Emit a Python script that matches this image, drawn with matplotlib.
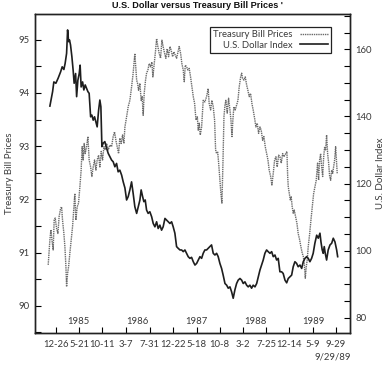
import numpy as np
import pandas as pd
import matplotlib
matplotlib.use("Agg")
import matplotlib.pyplot as plt
import matplotlib.dates as mdates
from matplotlib.ticker import MultipleLocator, FixedLocator

# weeks after 1984-12-26
BASE = pd.Timestamp("1984-12-26")

tb_weeks = [-6.8, -5.3, -4.4, -3.5, -2.4, -1.5, -0.6, 0.6, 1.8, 2.9, 4.2, 5.1, 5.9, 7.1, 8.0, 8.9, 9.5,
            10.4, 11.3, 12.4, 13.6, 14.8, 16.0, 16.8, 17.7, 18.9, 20.1, 21.3, 22.4, 23.3, 24.2, 25.1,
            26.0, 27.2, 28.4, 29.5, 30.8, 31.9, 33.1, 34.3, 35.5, 36.6, 37.9, 39.0, 40.2, 41.4, 42.6,
            43.7, 45.0, 46.4, 47.9, 49.4, 50.8, 52.0, 53.2, 54.4, 55.6, 56.7, 57.9, 59.1, 60.3, 61.2,
            62.7, 64.1, 65.6, 67.1, 68.5, 70.0, 71.6, 72.4, 73.3, 74.5, 75.6, 76.5, 77.4, 78.3, 79.5,
            80.4, 81.6, 82.7, 84.0, 85.1, 86.0, 87.2, 88.4, 89.3, 90.4, 91.6, 92.8, 94.0, 95.1, 96.4,
            97.5, 98.7, 99.9, 101.1, 102.2, 103.5, 104.6, 105.8, 107.0, 108.2, 109.3, 110.6, 111.7,
            112.9, 113.8, 114.7, 115.9, 117.0, 118.2, 119.4, 120.6, 121.8, 123.0, 124.2, 125.4, 126.2,
            127.1, 128.0, 129.2, 130.6, 132.1, 133.6, 135.0, 135.9, 137.2, 138.3, 139.5, 140.7, 141.6,
            142.5, 143.4, 144.3, 145.4, 146.3, 147.2, 148.1, 149.0, 149.9, 150.7, 151.9, 153.1, 154.3,
            155.2, 156.1, 156.9, 157.8, 159.0, 160.2, 161.4, 162.5, 163.8, 164.7, 165.5, 166.7, 167.9,
            169.1, 170.2, 171.4, 172.6, 173.8, 174.9, 176.2, 177.3, 178.5, 179.7, 180.9, 182.0, 183.3,
            184.4, 185.6, 186.8, 188.0, 189.1, 190.4, 191.5, 192.7, 193.9, 195.1, 196.2, 197.5, 198.6,
            199.8, 201.0, 202.2, 204.8, 205.5, 206.0, 206.9, 207.8, 208.6, 209.5, 210.4, 211.3, 212.5,
            213.7, 214.8, 216.1, 217.2, 218.4, 219.3, 220.2, 221.1, 222.0, 222.8, 223.7, 225.0, 226.1,
            227.3, 228.5, 229.7, 230.8, 232.0, 232.9, 233.8, 234.7, 235.6, 236.5, 237.4, 238.3, 239.1,
            240.0, 240.9, 241.8, 242.7, 243.6, 244.5, 245.4, 246.2, 247.1, 248.0, 248.9, 249.4]
tb_price = [90.77, 91.24, 91.43, 91.24, 91.05, 91.61, 91.65, 91.46, 91.36, 91.68, 91.83, 91.86, 91.61,
            91.36, 91.11, 90.74, 90.36, 90.61, 90.74, 90.99, 91.24, 91.49, 91.86, 92.11, 91.61, 91.86,
            91.93, 92.24, 92.55, 92.99, 92.74, 93.05, 92.86, 92.99, 93.18, 92.74, 92.61, 92.43, 92.61,
            92.74, 92.55, 92.74, 92.83, 92.61, 92.90, 92.74, 92.99, 92.93, 93.05, 92.93, 93.02, 92.99,
            93.18, 93.27, 93.11, 92.99, 92.86, 93.15, 93.05, 93.21, 93.05, 93.36, 93.55, 93.74, 93.86,
            94.11, 94.37, 94.74, 94.24, 94.18, 94.05, 94.18, 93.86, 93.93, 93.58, 93.99, 94.24, 94.37,
            94.43, 94.55, 94.49, 94.58, 94.30, 94.55, 94.80, 95.02, 94.87, 94.74, 94.65, 94.99, 94.87,
            94.74, 94.65, 94.83, 94.68, 94.87, 94.80, 94.68, 94.77, 94.71, 94.65, 94.77, 94.87, 94.74,
            94.55, 94.43, 94.21, 94.52, 94.49, 94.43, 94.46, 94.30, 94.11, 93.93, 93.80, 93.49, 93.55,
            93.30, 93.43, 93.21, 93.36, 93.86, 93.83, 93.93, 94.08, 93.80, 93.68, 93.86, 93.74, 93.49,
            92.93, 92.86, 92.90, 92.68, 92.36, 92.11, 91.93, 92.68, 93.55, 93.77, 93.86, 93.62, 93.90,
            93.68, 93.49, 93.18, 93.49, 93.74, 93.68, 93.77, 93.86, 94.11, 94.30, 94.37, 94.27, 94.24,
            94.30, 94.15, 94.05, 93.93, 93.99, 93.80, 93.68, 93.52, 93.36, 93.43, 93.24, 93.36, 93.30,
            93.11, 93.18, 92.99, 92.86, 92.74, 92.55, 92.43, 92.27, 92.49, 92.74, 92.80, 92.61, 92.83,
            92.80, 92.68, 92.86, 92.80, 92.90, 92.43, 92.24, 92.11, 91.99, 92.05, 91.86, 91.74, 91.80,
            91.68, 91.55, 91.36, 91.24, 91.11, 90.99, 90.93, 90.80, 90.52, 90.74, 90.86, 91.11, 91.36,
            91.61, 91.86, 92.11, 92.24, 92.36, 92.68, 92.36, 92.74, 92.86, 92.61, 92.43, 92.80, 92.99,
            92.93, 93.21, 92.86, 92.68, 92.43, 92.36, 92.55, 92.49, 92.61, 92.74, 92.99, 92.68, 92.49]

usd_weeks = [-5.3, -2.9, -1.8, 0.0, 2.0, 4.2, 5.6, 7.1, 8.2, 9.5, 10.4, 11.3, 12.1, 13.0, 14.2, 15.3,
             16.2, 17.5, 18.4, 19.5, 20.7, 21.5, 22.4, 23.7, 24.8, 26.0, 27.2, 28.4, 29.5, 30.8, 31.9,
             33.1, 34.3, 35.5, 36.6, 37.9, 39.0, 39.9, 40.8, 41.9, 43.4, 45.0, 46.4, 47.9, 49.4, 50.8,
             52.3, 53.8, 55.2, 56.7, 58.3, 59.7, 61.2, 62.7, 64.1, 65.6, 67.1, 68.5, 70.0, 71.6, 73.0,
             74.5, 75.6, 76.9, 78.0, 79.2, 80.4, 81.8, 83.3, 84.9, 86.3, 87.8, 89.3, 90.7, 92.2, 93.7,
             95.1, 96.7, 98.2, 99.6, 101.1, 102.6, 104.0, 105.5, 107.0, 108.4, 110.0, 111.5, 112.9,
             114.4, 115.9, 117.3, 118.8, 120.3, 121.8, 123.3, 124.8, 126.2, 127.7, 129.2, 130.6, 132.1,
             133.6, 135.0, 136.5, 138.0, 139.5, 141.0, 142.5, 143.9, 145.4, 146.9, 148.3, 149.9, 151.4,
             152.8, 154.3, 155.8, 157.2, 158.7, 160.2, 161.6, 163.2, 164.7, 166.1, 167.6, 169.1, 170.5,
             172.0, 173.5, 174.9, 176.5, 178.0, 179.4, 180.9, 182.4, 183.8, 185.3, 186.8, 188.2, 189.8,
             191.3, 192.7, 194.2, 195.7, 197.1, 198.6, 200.1, 201.5, 203.1, 204.6, 206.0, 207.5, 209.0,
             210.4, 211.9, 213.4, 214.8, 216.4, 217.9, 219.3, 220.8, 222.3, 223.7, 225.2, 226.7, 228.1,
             229.6, 231.2, 232.6, 234.1, 235.0, 236.1, 237.0, 237.9, 238.8, 240.0, 241.4, 243.0, 244.5,
             245.9, 247.4, 248.9, 249.8]
usd_index = [143.1, 147.4, 150.3, 149.9, 151.4, 153.3, 154.8, 154.0, 155.8, 158.8, 165.8, 162.3, 162.8,
             161.3, 157.8, 153.8, 149.9, 152.8, 145.9, 150.8, 152.8, 155.3, 148.8, 150.3, 147.9, 149.4,
             148.4, 147.4, 146.9, 139.9, 140.4, 138.9, 139.9, 138.4, 136.9, 141.9, 144.9, 142.9, 131.0,
             132.0, 132.5, 130.5, 129.0, 128.0, 127.0, 126.5, 125.0, 126.0, 123.5, 124.0, 122.5, 120.5,
             118.7, 115.1, 116.1, 118.1, 120.5, 117.1, 113.1, 111.1, 113.1, 115.1, 118.1, 116.1, 114.6,
             115.1, 112.1, 111.1, 111.6, 110.1, 108.1, 107.1, 108.6, 106.6, 107.6, 106.1, 107.1, 109.6,
             109.1, 108.6, 108.1, 108.6, 107.1, 105.2, 101.2, 100.7, 100.2, 100.2, 99.7, 100.2, 99.2,
             98.2, 97.7, 98.0, 96.7, 95.7, 96.2, 97.2, 98.2, 97.7, 99.2, 100.2, 100.2, 100.7, 101.2,
             101.7, 99.2, 98.7, 99.2, 98.2, 96.2, 94.7, 92.7, 90.2, 89.7, 88.8, 89.2, 87.7, 85.8, 88.3,
             90.2, 91.2, 91.7, 91.2, 90.2, 90.7, 89.7, 89.2, 89.7, 88.8, 89.7, 89.2, 90.2, 92.2, 94.2,
             95.7, 97.2, 99.2, 100.2, 99.7, 99.2, 99.7, 98.2, 98.7, 97.2, 97.7, 93.7, 93.7, 93.2, 91.2,
             90.4, 91.7, 92.2, 92.7, 95.2, 96.7, 96.2, 95.2, 95.7, 94.7, 96.7, 97.7, 98.2, 97.7, 96.7,
             97.7, 99.2, 102.2, 104.6, 103.7, 105.2, 102.6, 100.2, 99.2, 101.2, 99.2, 97.2, 100.2,
             101.7, 102.2, 103.7, 102.6, 100.2, 98.2]

tick_dates = ["1984-12-26", "1985-05-21", "1985-10-11", "1986-03-07", "1986-07-31", "1986-12-22",
              "1987-05-18", "1987-10-08", "1988-03-02", "1988-07-25", "1988-12-14", "1989-05-09",
              "1989-09-29"]
tick_labels = ["12-26", "5-21", "10-11", "3-7", "7-31", "12-22", "5-18", "10-8", "3-2", "7-25",
               "12-14", "5-9", "9-29"]
years = [1985, 1986, 1987, 1988, 1989]


def to_dates(weeks):
    return BASE + pd.to_timedelta(np.array(weeks) * 7, unit="D")


FONT = ["Lato", "DejaVu Sans"]
TXT = "#3a3a3a"
plt.rcParams["font.family"] = FONT

fig = plt.figure(figsize=(3.88, 3.67), dpi=100)
ax = fig.add_axes([0.090, 0.0926, 0.812, 0.869])
ax2 = ax.twinx()

l1, = ax.plot(to_dates(tb_weeks), tb_price, color="#6a6a6a", lw=1.0, ls=(0, (1, 0.6)))
l2, = ax2.plot(to_dates(usd_weeks), usd_index, color="#1e1e1e", lw=1.2)

ax.set_xlim(BASE - pd.Timedelta(days=130), BASE + pd.Timedelta(days=1825))
ax.set_ylim(89.49, 95.48)
ax2.set_ylim(75.44, 170.52)

ax.xaxis.set_major_locator(FixedLocator(mdates.date2num(pd.to_datetime(tick_dates))))
ax.set_xticklabels(tick_labels)
ax.yaxis.set_major_locator(MultipleLocator(1))
ax.yaxis.set_minor_locator(MultipleLocator(0.5))
ax2.yaxis.set_major_locator(MultipleLocator(20))
ax2.yaxis.set_minor_locator(MultipleLocator(5))

for a in (ax, ax2):
    a.tick_params(which="both", direction="in", length=4, width=0.8, labelsize=6.8,
                  labelcolor=TXT, pad=4)
    for s in a.spines.values():
        s.set_linewidth(1.0)
        s.set_color("#222222")
ax.tick_params(axis="x", pad=5)

ax.set_ylabel("Treasury Bill Prices", fontsize=7, color=TXT, labelpad=3)
ax2.set_ylabel("U.S. Dollar Index", fontsize=7, color=TXT, labelpad=3)

for yr in years:
    ax.text(pd.Timestamp(f"{yr}-05-15"), 89.70, str(yr), ha="center", va="center",
            fontsize=6.8, color=TXT)

fig.text(0.905, 0.027, "9/29/89", ha="right", va="center", fontsize=6.8, color=TXT)
fig.text(0.51, 0.985, "U.S. Dollar versus Treasury Bill Prices '", ha="center", va="center",
         fontsize=6.6, family="Liberation Sans", fontweight="bold", color="#111111")

leg = ax2.legend([l1, l2], ["Treasury Bill Prices", "U.S. Dollar Index"], loc="upper right",
                 bbox_to_anchor=(0.955, 0.973), markerfirst=False, fancybox=False,
                 framealpha=1, edgecolor="#222222", fontsize=6.8, handlelength=3.0,
                 borderpad=0.3, labelspacing=0.15, handletextpad=0.8)
leg.get_frame().set_linewidth(0.9)
for t in leg.get_texts():
    t.set_color(TXT)

fig.savefig("out.png", dpi=100)
